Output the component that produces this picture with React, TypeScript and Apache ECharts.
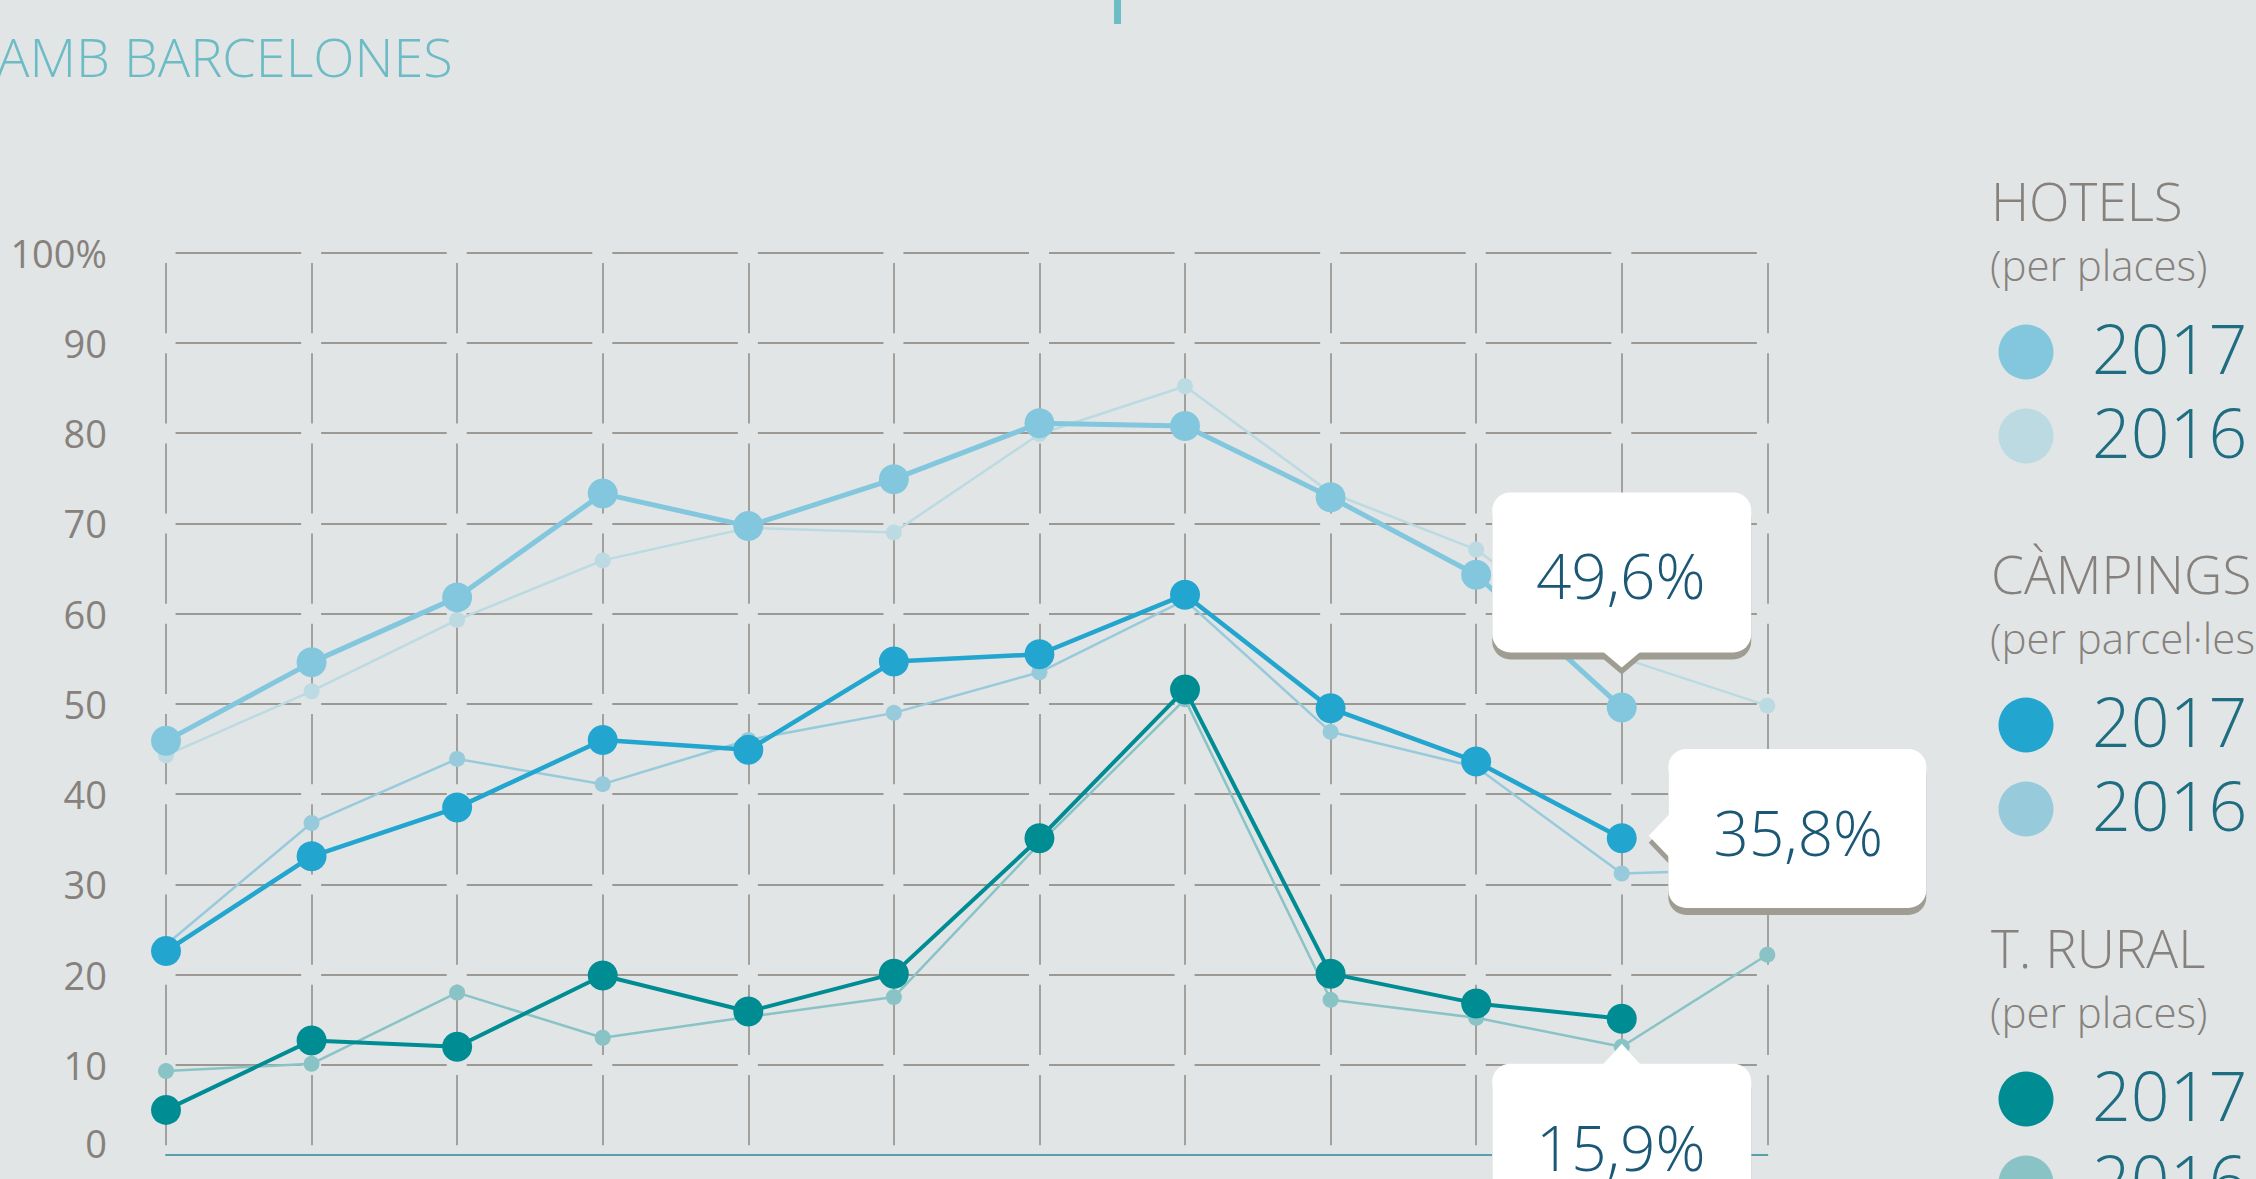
import React, { useEffect, useRef } from "react";
import * as echarts from "echarts";

// ---- data ----
const categories = ["Gen", "Feb", "Mar", "Abr", "Mai", "Jun", "Jul", "Ago", "Set", "Oct", "Nov", "Des"];
const yTicks = [0, 10, 20, 30, 40, 50, 60, 70, 80, 90, 100];

const hotels2017 = [45.9, 54.6, 61.8, 73.3, 69.7, 74.9, 81.1, 80.8, 72.9, 64.3, 49.6, null];
const hotels2016 = [44.3, 51.4, 59.3, 65.9, 69.5, 69.0, 79.9, 85.2, 73.4, 67.1, 55.1, 49.8];
const campings2017 = [22.6, 33.1, 38.5, 46.0, 44.9, 54.7, 55.5, 62.1, 49.5, 43.6, 35.1, null];
const campings2016 = [23.3, 36.8, 43.9, 41.1, 46.0, 49.0, 53.5, 61.5, 46.9, 43.0, 31.2, 31.7];
const rural2017 = [5.0, 12.7, 12.0, 19.9, 15.9, 20.1, 35.1, 51.6, 20.1, 16.8, 15.1, null];
const rural2016 = [9.3, 10.1, 18.0, 13.0, 15.3, 17.5, 34.5, 50.5, 17.2, 15.2, 12.0, 22.2];

const calloutIndex = 10;
const calloutTexts = ["49,6%", "35,8%", "15,9%"];

const groupTitles = ["HOTELS", "CÀMPINGS", "T. RURAL"];
const groupSubtitles = ["(per places)", "(per parcel·les)", "(per places)"];
const yearLabels = ["2017", "2016"];
const title = "AMB BARCELONES";

// ---- styles ----
const FONT = "'Open Sans', 'Noto Sans', sans-serif";
const BG = "#e1e5e6";
const GRAY_TEXT = "#86817c";
const YEAR_TEXT = "#1e6d81";
const CALLOUT_TEXT = "#1b5876";
const SHADOW = "#9f9c91";
const colors = {
  h17: "#82c7dd",
  h16: "#bcdae2",
  c17: "#22a5cf",
  c16: "#97cadb",
  r17: "#008c93",
  r16: "#89c3c6",
};
const legendColors = [
  [colors.h17, colors.h16],
  [colors.c17, colors.c16],
  [colors.r17, colors.r16],
];

const W = 2256;
const H = 1179;
const GRID_LEFT = 166;
const GRID_RIGHT_X = 1767.3;
const GRID_TOP = 252.7;
const GRID_BOTTOM_Y = 1155;

function lineSeries(name: string, data: (number | null)[], color: string, width: number, size: number, z: number) {
  return {
    type: "line",
    name,
    data,
    symbol: "circle",
    symbolSize: size,
    showSymbol: true,
    connectNulls: false,
    silent: true,
    z,
    lineStyle: { color, width },
    itemStyle: { color },
  };
}

function txt(text: string, x: number, y: number, size: number, fill: string, align = "left", weight: any = 300) {
  return {
    type: "text",
    z: 120,
    silent: true,
    style: {
      text,
      x,
      y,
      fill,
      fontSize: size,
      fontFamily: FONT,
      fontWeight: weight,
      align,
      textAlign: align,
      verticalAlign: "middle",
      textVerticalAlign: "middle",
    },
  };
}

export default function App() {
  const ref = useRef<HTMLDivElement>(null);

  useEffect(() => {
    if (!ref.current) return;
    const chart = echarts.init(ref.current, null, { renderer: "svg" });

    const stepX = (GRID_RIGHT_X - GRID_LEFT) / (categories.length - 1);
    const stepY = (GRID_BOTTOM_Y - GRID_TOP) / (yTicks.length - 1);
    const gap = 20;

    chart.setOption({
      animation: false,
      backgroundColor: BG,
      grid: {
        left: GRID_LEFT,
        right: W - GRID_RIGHT_X,
        top: GRID_TOP,
        bottom: H - GRID_BOTTOM_Y,
        containLabel: false,
      },
      xAxis: {
        type: "category",
        data: categories,
        boundaryGap: false,
        axisLine: { show: true, lineStyle: { color: "#5a9fab", width: 2 } },
        axisTick: { show: false },
        axisLabel: { show: false },
        splitLine: {
          show: true,
          lineStyle: {
            color: "#8e8a86",
            width: 1.5,
            type: [stepY - gap, gap],
            dashOffset: stepY - gap + gap / 2,
          },
        },
      },
      yAxis: {
        type: "value",
        min: 0,
        max: 100,
        interval: 10,
        axisLine: { show: false },
        axisTick: { show: false },
        axisLabel: {
          margin: 59,
          color: GRAY_TEXT,
          fontFamily: FONT,
          fontWeight: 400,
          fontSize: 38,
          formatter: (v: number) => (v === 100 ? "100%" : v === 0 ? "{z|0}" : String(v)),
          rich: {
            z: { padding: [0, 0, 24, 0], color: GRAY_TEXT, fontFamily: FONT, fontWeight: 400, fontSize: 38 },
          },
        },
        splitLine: {
          show: true,
          lineStyle: {
            color: "#9c9894",
            width: 2,
            type: [stepX - gap, gap],
            dashOffset: stepX - gap + gap / 2,
          },
        },
      },
      series: [
        lineSeries("T. RURAL 2016", rural2016, colors.r16, 2.5, 16, 2),
        lineSeries("CÀMPINGS 2016", campings2016, colors.c16, 2.5, 16, 2),
        lineSeries("HOTELS 2016", hotels2016, colors.h16, 2.5, 16, 2),
        lineSeries("T. RURAL 2017", rural2017, colors.r17, 4, 30, 3),
        lineSeries("CÀMPINGS 2017", campings2017, colors.c17, 4.5, 30, 3),
        lineSeries("HOTELS 2017", hotels2017, colors.h17, 5, 30, 3),
      ],
    });

    const px = (v: number) => chart.convertToPixel({ gridIndex: 0 }, [calloutIndex, v]) as number[];
    const elements: any[] = [];

    const fill = (f: string) => ({ fill: f });
    const rect = (x: number, y: number, w: number, h: number, f: string) => ({
      type: "rect",
      z: 110,
      silent: true,
      shape: { x, y, width: w, height: h, r: 18 },
      style: fill(f),
    });
    const poly = (pts: number[][], f: string) => ({
      type: "polygon",
      z: 110,
      silent: true,
      shape: { points: pts },
      style: fill(f),
    });
    const shift = (pts: number[][], d: number) => pts.map(([x, y]) => [x, y + d]);

    // Callout 1: above hotels 2017, pointer down
    {
      const p = px(hotels2017[calloutIndex] as number);
      const w = 259, h = 160;
      const left = p[0] - w / 2, top = p[1] - 215;
      const tri = [[p[0] - 19, top + h - 1], [p[0] + 19, top + h - 1], [p[0], p[1] - 40]];
      elements.push(rect(left, top + 7, w, h, SHADOW), poly(shift(tri, 7), SHADOW));
      elements.push(rect(left, top, w, h, "#ffffff"), poly(tri, "#ffffff"));
      elements.push(txt(calloutTexts[0], p[0] - 1, top + 83, 62, CALLOUT_TEXT, "center"));
    }
    // Callout 2: right of campings 2017, pointer left
    {
      const p = px(campings2017[calloutIndex] as number);
      const w = 258, h = 159;
      const left = p[0] + 46.6, top = p[1] - 89.3;
      const tri = [[left + 1, p[1] - 24], [left + 1, p[1] + 19], [p[0] + 27, p[1] - 2.6]];
      elements.push(rect(left, top + 7, w, h, SHADOW), poly(shift(tri, 7), SHADOW));
      elements.push(rect(left, top, w, h, "#ffffff"), poly(tri, "#ffffff"));
      elements.push(txt(calloutTexts[1], left + w / 2 + 1, top + 83, 62, CALLOUT_TEXT, "center"));
    }
    // Callout 3: below rural 2017, pointer up
    {
      const p = px(rural2017[calloutIndex] as number);
      const w = 259, h = 160;
      const left = p[0] - w / 2, top = p[1] + 45;
      const tri = [[p[0] - 19, top + 1], [p[0] + 19, top + 1], [p[0], p[1] + 25]];
      elements.push(rect(left, top + 7, w, h, SHADOW));
      elements.push(rect(left, top, w, h, "#ffffff"), poly(tri, "#ffffff"));
      elements.push(txt(calloutTexts[2], p[0] - 1, top + 83, 62, CALLOUT_TEXT, "center"));
    }

    // Title and top bar
    elements.push(txt(title, -3, 56, 54, "#6dbcc5"));
    elements.push({
      type: "rect",
      z: 110,
      silent: true,
      shape: { x: 1114, y: 0, width: 7, height: 24 },
      style: { fill: "#6dbdc7" },
    });

    // Legend
    const groupTop = [200, 573, 947];
    groupTitles.forEach((t, gi) => {
      const y0 = groupTop[gi];
      elements.push(txt(t, 1991, y0, 53, GRAY_TEXT));
      elements.push(txt(groupSubtitles[gi], 1990, y0 + 64, 42, GRAY_TEXT));
      yearLabels.forEach((yl, yi) => {
        const cy = y0 + 152 + yi * 84;
        elements.push({
          type: "circle",
          z: 110,
          silent: true,
          shape: { cx: 2026, cy, r: 27.5 },
          style: { fill: legendColors[gi][yi] },
        });
        elements.push(txt(yl, 2092, cy - 5, 68, YEAR_TEXT));
      });
    });

    chart.setOption({ graphic: { elements } });

    return () => chart.dispose();
  }, []);

  return (
    <div
      ref={ref}
      style={{ position: "fixed", left: 0, top: 0, width: W, height: H, background: BG }}
    />
  );
}
